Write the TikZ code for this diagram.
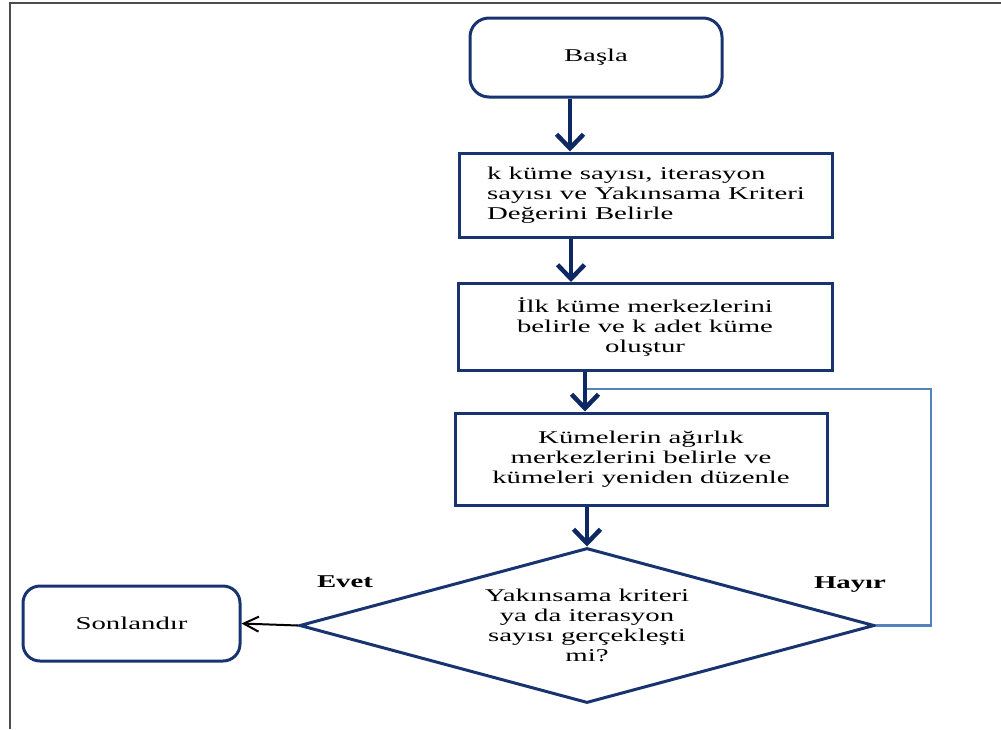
\documentclass[tikz,border=0pt]{standalone}
\usepackage{fontspec}
\setmainfont{Liberation Serif}[FakeStretch=1.6]
\usetikzlibrary{shapes.geometric,arrows.meta}
\definecolor{boxnavy}{RGB}{24,52,112}
\definecolor{arrownavy}{RGB}{14,40,100}
\definecolor{loopblue}{RGB}{84,130,186}
\begin{document}
\begin{tikzpicture}[x=1pt,y=-1pt,
    font=\fontsize{18pt}{20pt}\selectfont,
    startstop/.style={draw=boxnavy, line width=3pt, rounded corners=19pt, align=center},
    process/.style={draw=boxnavy, line width=3pt, align=center},
    decision/.style={draw=boxnavy, line width=3pt, diamond, aspect=3.7, inner sep=0pt, align=center},
    flow/.style={draw=arrownavy, line width=4.5pt, -{Straight Barb[length=14pt,width=27pt]}},
    yesarrow/.style={draw=black, line width=2pt, -{Straight Barb[length=15pt,width=15pt]}},
    loopline/.style={draw=loopblue, line width=2.5pt},
    label/.style={font=\fontsize{18pt}{20pt}\selectfont\bfseries}]
    \useasboundingbox (0,0) rectangle (1001,729);

    % frame
    \draw[gray!60!black, line width=1.5pt] (10,729) -- (10,3) -- (1001,3);

    % the steps
    \node[startstop, minimum width=252pt, minimum height=79pt] (basla) at (596,57.5) {Başla};
    \node[process, minimum width=373pt, minimum height=84pt, align=left] (kbox) at (646,195)
        {k küme sayısı, iterasyon\\sayısı ve Yakınsama Kriteri\\Değerini Belirle};
    \node[process, minimum width=374pt, minimum height=87pt] (ilk) at (645,327)
        {İlk küme merkezlerini\\belirle ve k adet küme\\oluştur};
    \node[process, minimum width=372pt, minimum height=92pt] (agirlik) at (641,459)
        {Kümelerin ağırlık\\merkezlerini belirle ve\\kümeleri yeniden düzenle};
    \node[decision, minimum width=575pt, minimum height=155pt] (karar) at (587,625.5)
        {Yakınsama kriteri\\ya da iterasyon\\sayısı gerçekleşti\\mi?};
    \node[startstop, rounded corners=17pt, minimum width=217pt, minimum height=75pt] (son) at (131.5,623.5) {Sonlandır};

    % labels of the decision
    \node[label] (evet) at (345,582) {Evet};
    \node[label] (hayir) at (850,585) {Hayır};

    % start points of the arrows
    \coordinate (a1) at ([xshift=-26pt]basla.south);
    \coordinate (a2) at ([xshift=-75pt]kbox.south);
    \coordinate (a3) at ([xshift=-60pt]ilk.south);
    \coordinate (a4) at (karar.north |- agirlik.south);
    \coordinate (geri) at ([yshift=-17pt]a3);

    % loop back
    \draw[loopline] (karar.east) -- ++(55,0) |- (geri);

    % arrows
    \draw[flow] (a1) -- (a1 |- kbox.north);
    \draw[flow] (a2) -- (a2 |- ilk.north);
    \draw[flow] (a3) -- (a3 |- agirlik.north);
    \draw[flow] (a4) -- (karar.north);
    \draw[yesarrow] (karar.west) -- (son.east);
\end{tikzpicture}
\end{document}
